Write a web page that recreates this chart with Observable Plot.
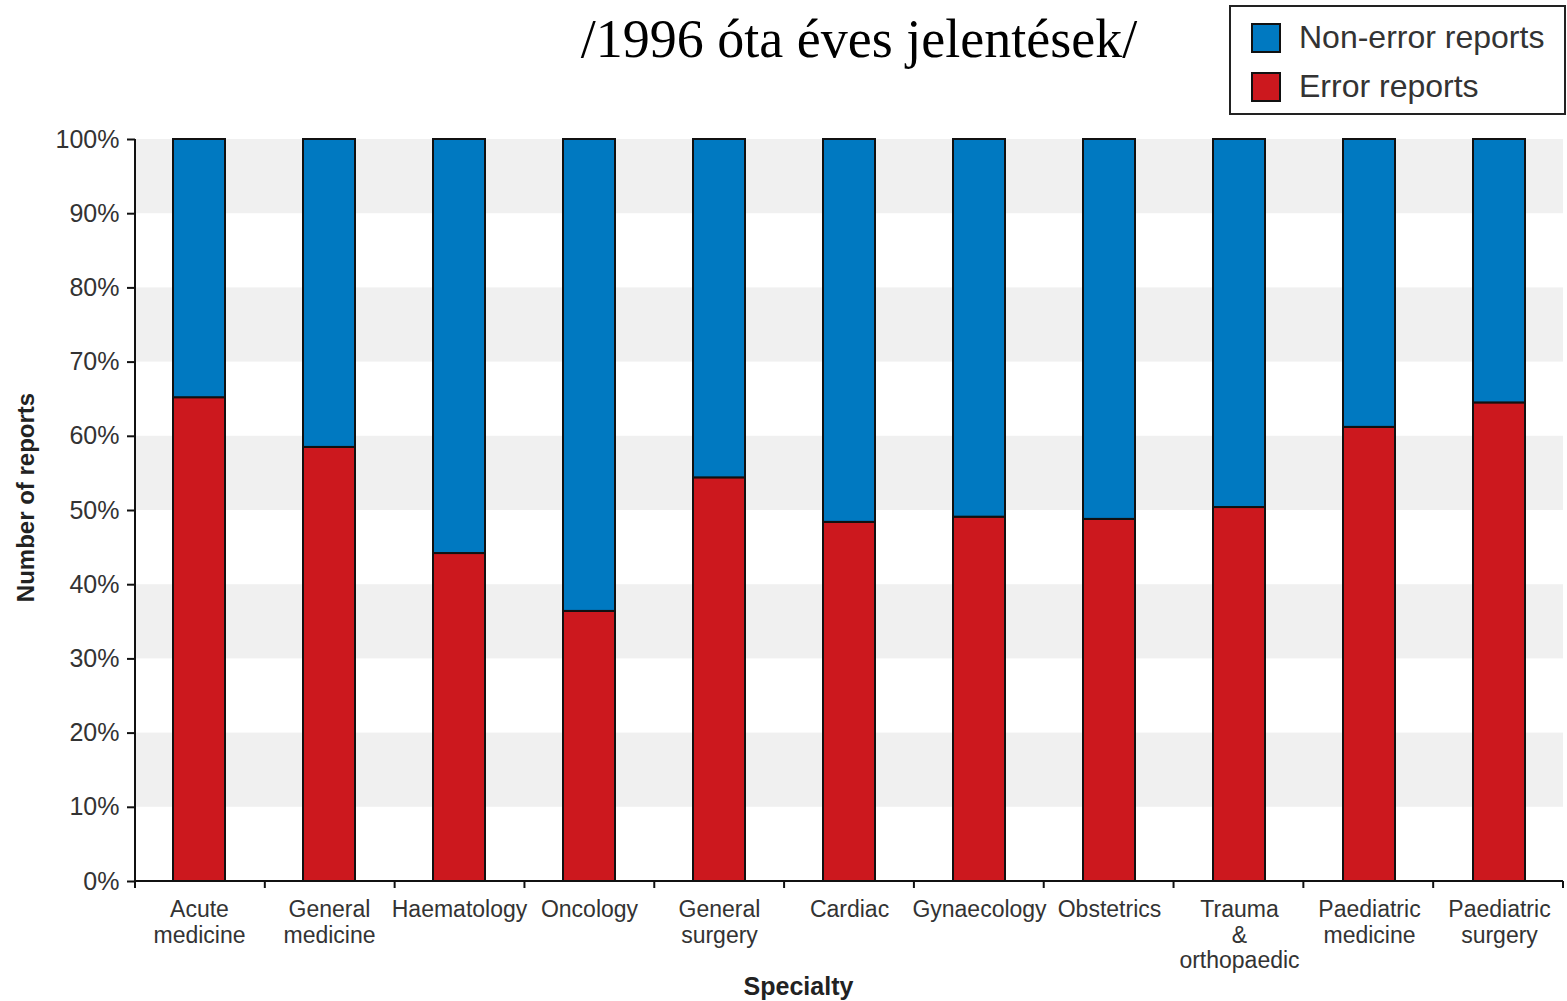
<!DOCTYPE html>
<html>
<head>
<meta charset="utf-8">
<script src="https://cdn.jsdelivr.net/npm/d3@7"></script>
<script src="https://cdn.jsdelivr.net/npm/@observablehq/plot@0.6"></script>
<style>
  body { margin: 0; background: #fff; }
  #wrap { position: relative; width: 1567px; height: 1001px; font-family: "Liberation Sans", Arial, sans-serif; }
  #header { position: relative; width: 1567px; height: 120px; }
  #title { position: absolute; left: 859px; top: 12px; transform: translateX(-50%); white-space: nowrap;
           font-family: "Liberation Serif", "Times New Roman", serif; font-size: 54px; line-height: 54px; color: #000; }
  #legend { position: absolute; left: 1229px; top: 5px; width: 337px; height: 110px; box-sizing: border-box;
            border: 2px solid #222; background: #fff; }
  .item { position: absolute; left: 20px; display: flex; align-items: center; font-size: 32px; color: #333; white-space: nowrap; }
  .sw { width: 26px; height: 26px; border: 2px solid #111; margin-right: 18px; box-sizing: content-box; }
  #chart { position: absolute; left: 0; top: 120px; }
</style>
</head>
<body>
<div id="wrap">
  <div id="header">
    <div id="title"></div>
    <div id="legend"></div>
  </div>
  <div id="chart"></div>
</div>
<script>
const titleText = "/1996 óta éves jelentések/";
const categories = [
  "Acute\nmedicine", "General\nmedicine", "Haematology", "Oncology", "General\nsurgery",
  "Cardiac", "Gynaecology", "Obstetrics", "Trauma\n&\northopaedic", "Paediatric\nmedicine", "Paediatric\nsurgery"
];
const seriesNames = ["Non-error reports", "Error reports"];
const seriesColors = ["#0079c1", "#cc181e"];
const errorReports    = [65.2, 58.5, 44.2, 36.4, 54.4, 48.4, 49.1, 48.8, 50.4, 61.2, 64.5];
const nonErrorReports = [34.8, 41.5, 55.8, 63.6, 45.6, 51.6, 50.9, 51.2, 49.6, 38.8, 35.5];
const yTicks = [0, 10, 20, 30, 40, 50, 60, 70, 80, 90, 100];
const grayBands = [[10, 20], [30, 40], [50, 60], [70, 80], [90, 100]];
const xLabel = "Specialty";
const yLabel = "Number of reports";

document.getElementById("title").textContent = titleText;
const legend = document.getElementById("legend");
seriesNames.forEach((name, i) => {
  const it = document.createElement("div");
  it.className = "item";
  it.style.top = (i === 0 ? 12 : 61) + "px";
  const sw = document.createElement("div");
  sw.className = "sw";
  sw.style.background = seriesColors[i];
  const tx = document.createElement("span");
  tx.textContent = name;
  it.appendChild(sw); it.appendChild(tx);
  legend.appendChild(it);
});

const rows = [];
categories.forEach((c, i) => {
  rows.push({specialty: c, type: "Error reports", value: errorReports[i]});
  rows.push({specialty: c, type: "Non-error reports", value: nonErrorReports[i]});
});

function axisLines(index, scales, values, dim) {
  const g = d3.create("svg:g").attr("stroke", "#111").attr("stroke-width", 2);
  const x0 = dim.marginLeft, x1 = dim.width - dim.marginRight;
  const yb = dim.height - dim.marginBottom, yt = dim.marginTop;
  const n = categories.length;
  g.append("line").attr("x1", x0).attr("x2", x0).attr("y1", yt).attr("y2", yb + 1);
  g.append("line").attr("x1", x0 - 1).attr("x2", x1).attr("y1", yb).attr("y2", yb);
  for (let i = 0; i <= n; i++) {
    const x = x0 + i * (x1 - x0) / n;
    g.append("line").attr("x1", x).attr("x2", x).attr("y1", yb).attr("y2", yb + 7);
  }
  return g.node();
}

const chart = Plot.plot({
  width: 1567,
  height: 881,
  marginTop: 19,
  marginBottom: 120,
  marginLeft: 135,
  marginRight: 4,
  style: {fontFamily: "'Liberation Sans', Arial, sans-serif", background: "#fff", color: "#333"},
  x: {domain: categories, paddingInner: 0.6, paddingOuter: 0.285, label: null},
  y: {domain: [0, 100], label: null},
  color: {domain: seriesNames, range: seriesColors},
  marks: [
    Plot.rect(grayBands, {y1: d => d[0], y2: d => d[1], fill: "#f0f0f0"}),
    Plot.barY(rows, {x: "specialty", y: "value", fill: "type", order: ["Error reports", "Non-error reports"],
                     stroke: "#111", strokeWidth: 2}),
    axisLines,
    Plot.axisY({ticks: yTicks, tickFormat: d => d + "%", tickSize: 8, tickPadding: 8, fontSize: 25,
                stroke: "#111", strokeWidth: 2, strokeOpacity: 1, fill: "#333", label: null}),
    Plot.axisX({tickSize: 0, tickPadding: 17, fontSize: 23, lineHeight: 1.12, fill: "#333", label: null}),
    Plot.text([yLabel], {text: d => d, frameAnchor: "left", textAnchor: "middle", rotate: -90, dx: -109, dy: -13,
                         fontSize: 24, fontWeight: "bold", fill: "#222"}),
    Plot.text([xLabel], {text: d => d, frameAnchor: "bottom", dx: -51, dy: 113, fontSize: 25,
                         fontWeight: "bold", fill: "#222"})
  ]
});
document.getElementById("chart").appendChild(chart);
</script>
</body>
</html>
